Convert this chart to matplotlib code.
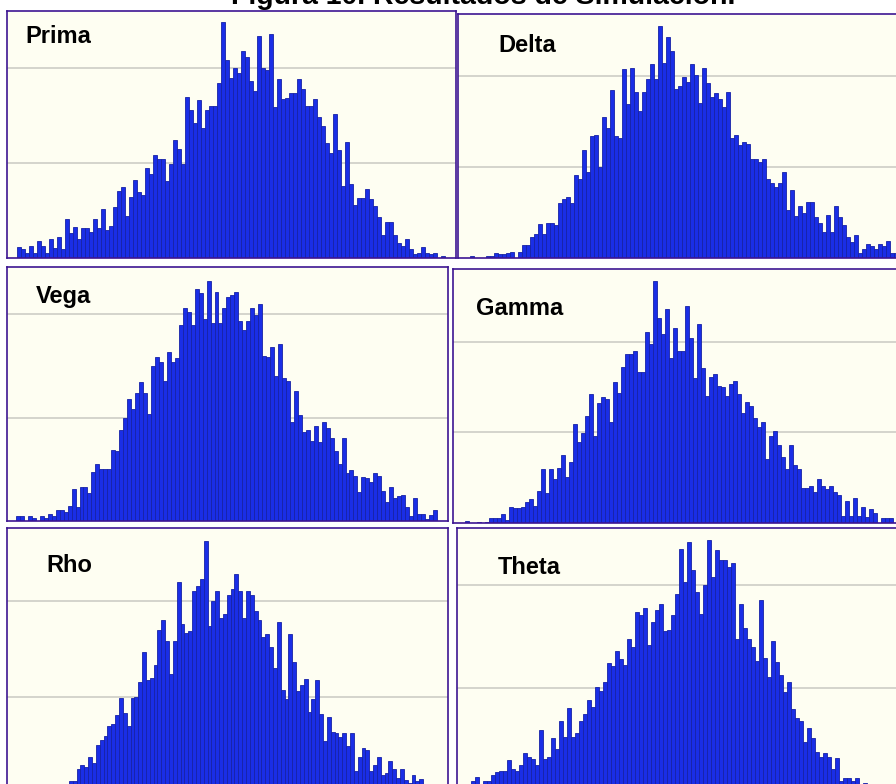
import numpy as np
import matplotlib
matplotlib.use("Agg")
import matplotlib.pyplot as plt

# Histogram counts per bin for each simulated quantity
prima = [12, 9, 5, 13, 5, 18, 13, 5, 20, 11,
         22, 9, 41, 26, 33, 20, 32, 32, 27, 41,
         32, 52, 30, 34, 54, 71, 75, 44, 64, 82,
         70, 66, 95, 88, 108, 104, 104, 81, 99, 124,
         115, 99, 169, 156, 142, 166, 137, 156, 160, 160,
         184, 248, 208, 190, 200, 195, 218, 212, 186, 176,
         234, 200, 198, 236, 159, 188, 167, 168, 174, 174,
         188, 178, 160, 160, 167, 148, 139, 121, 111, 152,
         114, 76, 122, 78, 56, 63, 63, 73, 62, 55,
         43, 24, 38, 38, 24, 16, 13, 20, 9, 4,
         5, 12, 5, 4, 5, 0, 2]

delta = [2, 0, 0, 0, 2, 2, 6, 4, 4, 6,
         7, 0, 7, 14, 14, 23, 26, 37, 26, 39,
         39, 36, 61, 65, 67, 61, 91, 87, 119, 95,
         134, 135, 100, 155, 143, 185, 134, 132, 208, 170,
         209, 183, 162, 183, 197, 214, 197, 255, 215, 243,
         228, 186, 189, 199, 194, 214, 201, 171, 209, 193,
         177, 182, 175, 166, 183, 132, 135, 124, 128, 126,
         109, 109, 106, 109, 87, 83, 78, 83, 95, 53,
         75, 46, 57, 50, 62, 62, 45, 39, 29, 47,
         29, 57, 45, 36, 23, 18, 25, 6, 10, 15,
         13, 10, 15, 13, 19, 6, 6]

vega = [5, 5, 0, 5, 3, 0, 5, 3, 7, 5,
        11, 11, 9, 15, 31, 14, 33, 33, 27, 47,
        55, 50, 50, 50, 69, 68, 88, 100, 118, 108,
        124, 135, 124, 104, 150, 159, 154, 136, 164, 154,
        158, 190, 206, 202, 190, 225, 221, 196, 232, 192,
        222, 192, 206, 217, 219, 222, 194, 185, 194, 206,
        199, 210, 160, 159, 168, 140, 171, 138, 136, 96,
        126, 103, 86, 88, 77, 92, 76, 96, 90, 80,
        68, 55, 80, 46, 49, 44, 28, 43, 42, 38,
        46, 44, 29, 18, 33, 22, 24, 25, 14, 5,
        22, 7, 7, 2, 6, 11]

gamma = [2, 0, 0, 1, 0, 1, 5, 5, 6, 10,
         3, 18, 17, 17, 18, 23, 26, 19, 35, 60,
         33, 59, 49, 61, 75, 51, 67, 109, 89, 99,
         118, 142, 96, 132, 139, 137, 111, 156, 143, 172,
         186, 186, 190, 167, 167, 211, 197, 267, 226, 208,
         236, 182, 215, 190, 190, 239, 204, 160, 219, 171,
         140, 161, 164, 151, 150, 140, 153, 157, 142, 121,
         133, 129, 116, 106, 111, 71, 96, 101, 86, 73,
         59, 86, 64, 59, 39, 39, 41, 34, 49, 41,
         37, 41, 34, 31, 8, 24, 8, 28, 8, 18,
         7, 15, 11, 0, 6, 6, 6, 0]

rho = [2, 0, 3, 1, 2, 4, 3, 5, 4, 6, 5, 7, 8, 9,
       12, 12, 25, 29, 27, 38, 31, 50, 55, 59,
       70, 72, 81, 99, 83, 70, 99, 100, 116, 147,
       118, 120, 133, 170, 180, 158, 124, 158, 220, 176,
       167, 169, 210, 216, 223, 262, 174, 200, 210, 182,
       186, 206, 212, 228, 210, 182, 210, 206, 190, 180,
       162, 166, 152, 130, 178, 107, 98, 166, 136, 106,
       113, 119, 84, 98, 118, 82, 54, 79, 64, 62,
       58, 62, 49, 62, 23, 37, 47, 45, 23, 29,
       38, 19, 21, 33, 25, 16, 25, 14, 10, 19,
       12, 15, 6, 4, 5, 3, 2]

theta = [9, 13, 6, 9, 9, 15, 18, 19, 19, 29,
         21, 19, 24, 36, 32, 30, 24, 59, 30, 32,
         51, 40, 67, 52, 80, 52, 56, 67, 74, 88,
         81, 101, 97, 106, 124, 121, 136, 128, 122, 148,
         140, 174, 171, 178, 142, 164, 176, 182, 155, 156,
         171, 192, 236, 203, 242, 215, 194, 172, 200, 244,
         208, 235, 225, 225, 218, 222, 148, 182, 158, 148,
         140, 126, 186, 129, 110, 146, 125, 112, 96, 106,
         79, 70, 67, 47, 61, 51, 37, 32, 36, 32,
         21, 31, 9, 12, 12, 9, 12, 6, 7,
         3, 4, 2, 3, 1, 2, 1]

names = ["Prima", "Delta", "Vega", "Gamma", "Rho", "Theta"]
series = [prima, delta, vega, gamma, rho, theta]
title = "Figura 10. Resultados de Simulación."

W, H = 896, 784

# Panel geometry in pixels: (left, top, right, bottom),
# first bar left edge, bar width, pixels per 100 counts, label position
panels = [
    dict(box=(7, 11, 456, 258), x0=17, bw=4.0, unit=95.0, lab=(25, 43)),
    dict(box=(458, 14, 907, 258), x0=470, bw=4.0, unit=90.8, lab=(498, 52)),
    dict(box=(7, 267, 448, 521), x0=16, bw=3.97, unit=103.3, lab=(36, 303)),
    dict(box=(453, 269, 905, 523), x0=465, bw=4.0, unit=90.7, lab=(476, 315)),
    dict(box=(7, 528, 448, 793), x0=15, bw=3.85, unit=96.0, lab=(46, 572)),
    dict(box=(457, 528, 905, 790), x0=471, bw=4.0, unit=102.3, lab=(498, 574)),
]

BG = "#fefef2"
FRAME = "#3d1592"
BAR = "#1a2ee6"
EDGE = "#1722a6"
GRID = "#d4d4cc"

plt.rcParams["font.family"] = ["Liberation Sans", "DejaVu Sans"]

fig = plt.figure(figsize=(W / 100, H / 100), dpi=100)
fig.patch.set_facecolor("white")

for name, counts, p in zip(names, series, panels):
    L, T, R, B = p["box"]
    ax = fig.add_axes([L / W, 1 - B / H, (R - L) / W, (B - T) / H])
    ax.set_facecolor(BG)
    n = len(counts)
    ax.bar(np.arange(n), counts, width=1.0, align="edge",
           color=BAR, edgecolor=EDGE, linewidth=0.6, zorder=2)
    ax.set_xlim(-(p["x0"] - L) / p["bw"], (R - p["x0"]) / p["bw"])
    ax.set_ylim(0, (B - T) / p["unit"] * 100)
    ax.set_yticks([100, 200])
    ax.set_xticks([])
    ax.tick_params(length=0, labelleft=False, labelbottom=False)
    ax.yaxis.grid(True, color=GRID, linewidth=1.4, zorder=1)
    ax.set_axisbelow(True)
    for s in ax.spines.values():
        s.set_color(FRAME)
        s.set_linewidth(1.2)
    fig.text(p["lab"][0] / W, 1 - p["lab"][1] / H, name,
             fontsize=17, fontweight="bold", color="black",
             ha="left", va="baseline")

fig.text(483 / W, 1 - 4 / H, title, fontsize=20.5, fontweight="bold",
         ha="center", va="baseline", color="black")

fig.savefig("out.png", dpi=100, facecolor="white")
